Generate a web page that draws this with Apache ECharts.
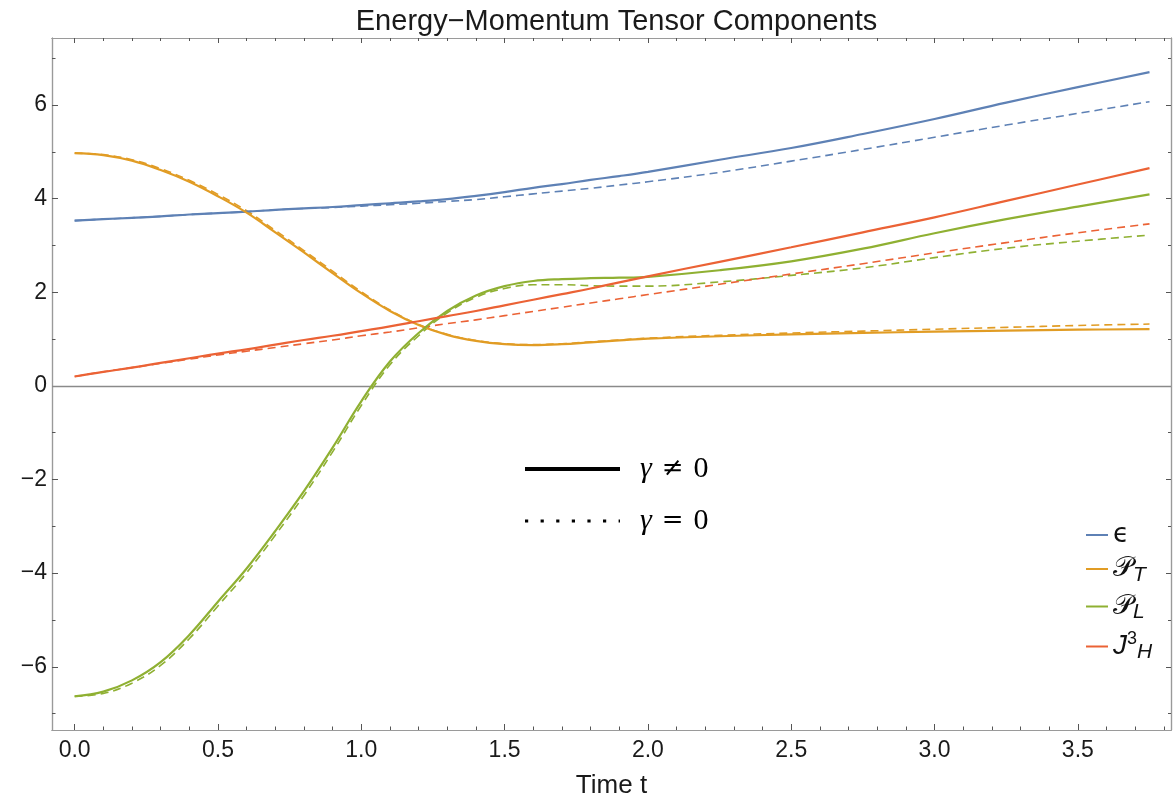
<!DOCTYPE html>
<html>
<head>
<meta charset="utf-8">
<script src="https://cdn.jsdelivr.net/npm/echarts@6/dist/echarts.min.js"></script>
<style>html,body{margin:0;padding:0;background:#fff;}#chart{width:1176px;height:804px;}</style>
</head>
<body>
<div id="chart"></div>
<script>
// ---- data ----
const tValues = [0,0.1,0.2,0.3,0.4,0.5,0.6,0.7,0.8,0.9,1.0,1.1,1.2,1.3,1.4,1.5,1.6,1.7,1.8,1.9,2.0,2.25,2.5,2.75,3.0,3.25,3.5,3.75];
const epsSolid = [3.53,3.56,3.59,3.62,3.66,3.69,3.72,3.76,3.79,3.82,3.86,3.90,3.94,3.99,4.06,4.14,4.23,4.31,4.40,4.48,4.57,4.83,5.08,5.38,5.70,6.05,6.38,6.70];
const epsDashed = [3.53,3.56,3.59,3.62,3.66,3.69,3.72,3.76,3.79,3.81,3.84,3.87,3.90,3.94,3.98,4.04,4.10,4.16,4.22,4.29,4.36,4.56,4.80,5.05,5.31,5.57,5.82,6.07];
const ptSolid = [4.97,4.93,4.81,4.61,4.36,4.05,3.70,3.28,2.85,2.41,1.98,1.60,1.30,1.09,0.96,0.89,0.87,0.89,0.93,0.97,1.01,1.06,1.10,1.13,1.16,1.18,1.20,1.21];
const ptDashed = [4.97,4.94,4.83,4.64,4.39,4.09,3.74,3.32,2.89,2.45,2.01,1.62,1.31,1.10,0.97,0.90,0.88,0.90,0.94,0.98,1.02,1.08,1.13,1.17,1.21,1.25,1.29,1.32];
const plSolid = [-6.63,-6.53,-6.29,-5.90,-5.32,-4.61,-3.90,-3.10,-2.25,-1.32,-0.33,0.52,1.13,1.60,1.93,2.13,2.24,2.28,2.30,2.31,2.33,2.47,2.66,2.93,3.26,3.56,3.83,4.09];
const plDashed = [-6.63,-6.57,-6.35,-5.97,-5.40,-4.70,-3.99,-3.19,-2.34,-1.41,-0.42,0.45,1.07,1.56,1.89,2.08,2.16,2.16,2.14,2.13,2.13,2.22,2.36,2.52,2.74,2.94,3.09,3.22];
const jhSolid = [0.20,0.30,0.39,0.49,0.59,0.69,0.78,0.88,0.98,1.07,1.17,1.27,1.38,1.49,1.60,1.72,1.84,1.96,2.08,2.21,2.34,2.65,2.96,3.28,3.60,3.95,4.30,4.65];
const jhDashed = [0.20,0.30,0.39,0.48,0.57,0.66,0.74,0.82,0.90,0.98,1.07,1.15,1.24,1.33,1.41,1.50,1.59,1.68,1.77,1.86,1.95,2.17,2.39,2.61,2.84,3.06,3.27,3.46];

const xMajorTicks = [0,0.5,1.0,1.5,2.0,2.5,3.0,3.5];
const xMinorTicks = [0.1,0.2,0.3,0.4,0.6,0.7,0.8,0.9,1.1,1.2,1.3,1.4,1.6,1.7,1.8,1.9,2.1,2.2,2.3,2.4,2.6,2.7,2.8,2.9,3.1,3.2,3.3,3.4,3.6,3.7,3.8];
const yMajorTicks = [-6,-4,-2,0,2,4,6];
const yMinorTicks = [-7,-5,-3,-1,1,3,5,7];

const title = 'Energy\u2212Momentum Tensor Components';
const xName = 'Time t';

// ---- chart ----
const pairs = v => tValues.map((t, i) => [t, v[i]]);
const COL = {eps:'#5E81B5', pt:'#E19C24', pl:'#8FB032', jh:'#EB6235'};
const X_MIN = -0.079, X_MAX = 3.825, Y_MIN = -7.35, Y_MAX = 7.43;
const frameColor = '#9a9a9a', tickColor = '#555';
const labelFont = {fontFamily:'Liberation Sans', fontSize:23, color:'#1a1a1a'};

function xAx(pos, vals, len, labels) {
  return {type:'value', position:pos, min:X_MIN, max:X_MAX,
    axisLine:{show:true, onZero:false, lineStyle:{color:frameColor, width:1.2}},
    axisTick:{show:true, inside:true, length:len, customValues:vals, lineStyle:{color:tickColor, width:1}},
    axisLabel: labels ? Object.assign({show:true, customValues:xMajorTicks, margin:9, formatter:v=>v.toFixed(1)}, labelFont) : {show:false},
    splitLine:{show:false}};
}
function yAx(pos, vals, len, labels) {
  return {type:'value', position:pos, min:Y_MIN, max:Y_MAX,
    axisLine:{show:true, onZero:false, lineStyle:{color:frameColor, width:1.2}},
    axisTick:{show:true, inside:true, length:len, customValues:vals, lineStyle:{color:tickColor, width:1}},
    axisLabel: labels ? Object.assign({show:true, customValues:yMajorTicks, margin:5, formatter:v=>String(v).replace('-', '\u2212')}, labelFont) : {show:false},
    splitLine:{show:false}};
}
const xAxes = [xAx('bottom', xMajorTicks, 6, true), xAx('bottom', xMinorTicks, 3.5, false), xAx('top', xMajorTicks, 5, false), xAx('top', xMinorTicks, 3, false)];
xAxes[0].name = xName; xAxes[0].nameLocation = 'middle'; xAxes[0].nameGap = 43;
xAxes[0].nameTextStyle = {fontFamily:'Liberation Sans', fontSize:26, color:'#1a1a1a'};
const yAxes = [yAx('left', yMajorTicks, 6, true), yAx('left', yMinorTicks, 3.5, false), yAx('right', yMajorTicks, 5, false), yAx('right', yMinorTicks, 3, false)];

function solid(name, col, data) {
  return {name, type:'line', data:pairs(data), color:col, symbol:'none', smooth:0.4, z:3,
    lineStyle:{color:col, width:2.2}};
}
function dashed(name, col, data) {
  return {name, type:'line', data:pairs(data), color:col, symbol:'none', smooth:0.4, z:2,
    lineStyle:{color:col, width:1.6, type:[8,5]}};
}
const series = [
  dashed('eps0', COL.eps, epsDashed), dashed('pt0', COL.pt, ptDashed), dashed('pl0', COL.pl, plDashed), dashed('jh0', COL.jh, jhDashed),
  solid('eps', COL.eps, epsSolid), solid('pt', COL.pt, ptSolid), solid('pl', COL.pl, plSolid), solid('jh', COL.jh, jhSolid),
  {name:'g1', type:'line', data:[], color:'#000', symbol:'none', lineStyle:{color:'#000', width:4}},
  {name:'g0', type:'line', data:[], color:'#000', symbol:'none', lineStyle:{color:'#000', width:3.2, type:[3.2,12.4]}}
];
series[0].markLine = {silent:true, symbol:'none', label:{show:false}, lineStyle:{color:'#8a8a8a', width:1.3, type:'solid'}, data:[{yAxis:0}], z:1};

const legendNames = {eps:'{e|\u03F5}', pt:'{p|\uD835\uDCAB}{s|T}', pl:'{p|\uD835\uDCAB}{s|L}', jh:'{j|J}{u|3}{s|H}'};
const gammaNames = {g1:'{g|\u03B3}{n|\u2260}{z|0}', g0:'{g|\u03B3}{n|=}{z|0}'};

const option = {
  animation:false,
  backgroundColor:'#fff',
  title:{text:title, left:611.5, textAlign:'center', top:2, textStyle:{fontFamily:'Liberation Sans', fontSize:29, fontWeight:'normal', color:'#1a1a1a'}},
  grid:{left:52, right:5, top:38, bottom:74},
  xAxis:xAxes, yAxis:yAxes,
  legend:[
    {data:['eps','pt','pl','jh'], orient:'vertical', left:1080, top:517, itemWidth:22, itemHeight:14, itemGap:7,
     itemStyle:{opacity:0},
     formatter:n=>legendNames[n],
     textStyle:{rich:{
       e:{fontFamily:'DejaVu Sans', fontSize:26, color:'#111'},
       p:{fontFamily:'DejaVu Sans', fontSize:28, color:'#111'},
       j:{fontFamily:'Liberation Sans', fontStyle:'italic', fontSize:28, color:'#111'},
       s:{fontFamily:'Liberation Sans', fontStyle:'italic', fontSize:21, color:'#111', verticalAlign:'bottom', padding:[12,0,0,0]},
       u:{fontFamily:'Liberation Sans', fontSize:18, color:'#111', verticalAlign:'top', padding:[0,0,12,0]}
     }}},
    {data:['g1','g0'], orient:'vertical', left:518, top:449, itemWidth:95, itemHeight:30, itemGap:22,
     itemStyle:{opacity:0},
     lineStyle:{width:'inherit'},
     formatter:n=>gammaNames[n],
     textStyle:{padding:[0,0,0,15], rich:{
       g:{fontFamily:'Liberation Serif', fontStyle:'italic', fontSize:30, color:'#000', padding:[0,10,0,0]},
       n:{fontFamily:'DejaVu Serif', fontSize:26, color:'#000', padding:[0,10,0,0]},
       z:{fontFamily:'Liberation Serif', fontSize:30, color:'#000'}
     }}}
  ],
  series
};
const chart = echarts.init(document.getElementById('chart'), null, {renderer:'canvas'});
chart.setOption(option);
</script>
</body>
</html>
